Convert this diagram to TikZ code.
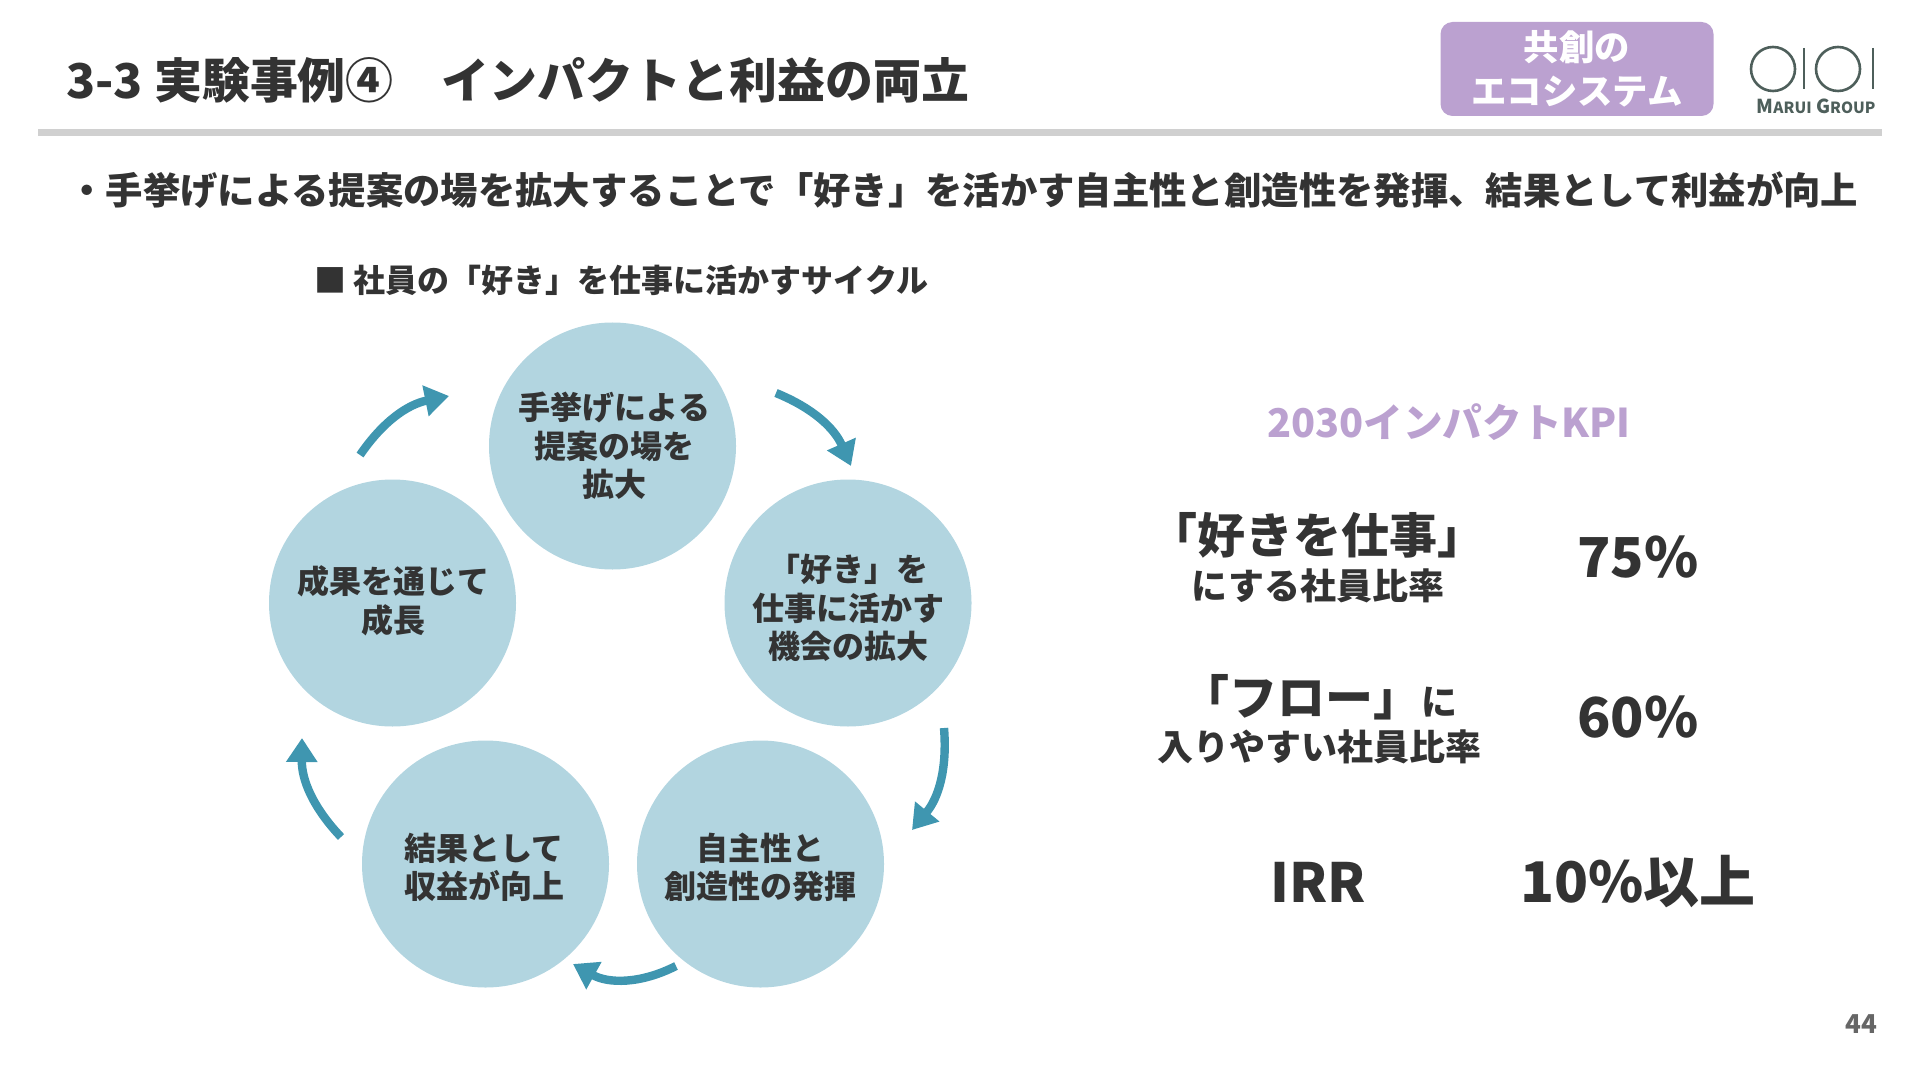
\documentclass[tikz,border=0pt]{standalone}
\usepackage{fontspec}
\setmainfont{Noto Sans CJK JP}
\usetikzlibrary{positioning, arrows.meta}
\definecolor{mInk}{HTML}{333333}
\definecolor{mLilac}{HTML}{BBA1D0}
\definecolor{mCircle}{HTML}{B2D5E0}
\definecolor{mArrow}{HTML}{3F96B0}
\definecolor{mRule}{HTML}{D0D0D0}
\definecolor{mLogo}{HTML}{4E5F5B}
\newcommand{\fsz}[1]{\fontsize{#1}{1.2\dimexpr#1pt\relax}\selectfont}

\begin{document}
\begin{tikzpicture}[
  x=0.5pt, y=-0.5pt,
  txt/.style={
    text=mInk,
    inner sep=0pt,
    align=center,
    font=\bfseries
  },
  cyclenode/.style={
    circle,
    fill=mCircle,
    minimum size=123.5pt,
    inner sep=0pt
  },
  cyclelabel/.style={
    inner sep=0pt,
    align=center,
    text=mInk,
    font=\bfseries\fontsize{16}{19.3}\selectfont
  },
  cyclearrow/.style={
    draw=mArrow,
    line width=4.2pt,
    -{Triangle[length=12pt,width=15pt]}
  },
  logoline/.style={
    draw=mLogo,
    line width=1.3pt
  }
]
\useasboundingbox (0,0) rectangle (1920,1080);

% header
\node[txt, anchor=west, font=\bfseries\fsz{23.97}] (title) at (66,80) {3-3 実験事例④　インパクトと利益の両立};
\node[fill=mLilac, rounded corners=6pt, minimum width=136.5pt, minimum height=47pt, inner sep=0pt,
  text=white, align=center, font=\bfseries\fontsize{17.7}{22}\selectfont] (badge) at (1577,69) {共創の\\エコシステム};
\fill[mRule] (38,129) rectangle (1882,136);

% logo
\node[circle, logoline, minimum size=22pt, inner sep=0pt] (o1) at (1773,69) {};
\node[circle, logoline, minimum size=22pt, inner sep=0pt] (o2) at (1838,69) {};
\draw[logoline] (1804,48) -- (1804,89);
\draw[logoline] (1873,48) -- (1873,89);
\node[text=mLogo, inner sep=0pt, font=\bfseries\fsz{9.6}] (group) at (1816,106) {M{\fsz{7.7}ARUI} G{\fsz{7.7}ROUP}};

% lead
\node[txt, anchor=west, font=\bfseries\fsz{18.68}] (lead) at (68,190) {・手挙げによる提案の場を拡大することで「好き」を活かす自主性と創造性を発揮、結果として利益が向上};
\node[txt, anchor=west, font=\bfseries\fsz{16}] (cap) at (314,280) {■ 社員の「好き」を仕事に活かすサイクル};

% cycle
\node[cyclenode] (c1) at (612.5,446) {};
\node[cyclenode] (c2) at (848,603) {};
\node[cyclenode] (c3) at (760.5,864) {};
\node[cyclenode] (c4) at (485.5,864) {};
\node[cyclenode] (c5) at (392.5,603) {};

\node[cyclelabel] (t1) at ([xshift=1pt]c1) {手挙げによる\\提案の場を\\拡大};
\node[cyclelabel] (t2) at ([yshift=-2.5pt]c2) {「好き」を\\仕事に活かす\\機会の拡大};
\node[cyclelabel] (t3) at ([yshift=-1.7pt]c3) {自主性と\\創造性の発揮};
\node[cyclelabel] (t4) at ([xshift=-0.7pt, yshift=-1.7pt]c4) {結果として\\収益が向上};
\node[cyclelabel] (t5) at ([xshift=0.7pt, yshift=1pt]c5) {成果を通じて\\成長};

\coordinate (a1s) at (776,393);
\coordinate (a1e) at (851,466);
\coordinate (a2s) at (944,728);
\coordinate (a2e) at (912,830);
\coordinate (a3s) at (676,966);
\coordinate (a3e) at (573,964);
\coordinate (a4s) at (341,837);
\coordinate (a4e) at (302,738);
\coordinate (a5s) at (360,455);
\coordinate (a5e) at (449,396);

\draw[cyclearrow] (a1s) to[bend left=22] (a1e);
\draw[cyclearrow] (a2s) to[bend left=22] (a2e);
\draw[cyclearrow] (a3s) to[bend left=28] (a3e);
\draw[cyclearrow] (a4s) to[bend left=22] (a4e);
\draw[cyclearrow] (a5s) to[bend left=22] (a5e);

% KPI
\node[txt, text=mLilac, font=\bfseries\fsz{19.8}] (kpi) at (1449,422) {2030インパクトKPI};

\node[txt, font=\bfseries\fsz{24}] (k1a) at (1317,535) {「好きを仕事」};
\node[txt, font=\bfseries\fsz{18}] (k1b) at (1318,586) {にする社員比率};
\node[txt, font=\bfseries\fsz{27.5}] (v1) at (1638,557) {75\%};

\node[txt, font=\bfseries\fsz{24}] (k2a) at (1319,697) {「フロー」{\fsz{18}に}};
\node[txt, font=\bfseries\fsz{18}] (k2b) at (1319,747) {入りやすい社員比率};
\node[txt, font=\bfseries\fsz{27.5}] (v2) at (1638,717) {60\%};

\node[txt, font=\bfseries\fsz{27}] (k3) at (1318,882) {IRR};
\node[txt, font=\bfseries\fsz{28}] (v3) at (1638,882) {10\%以上};

\node[txt, text=mInk!75, anchor=east, font=\bfseries\fsz{13}] (page) at (1878,1024) {44};

\end{tikzpicture}
\end{document}
